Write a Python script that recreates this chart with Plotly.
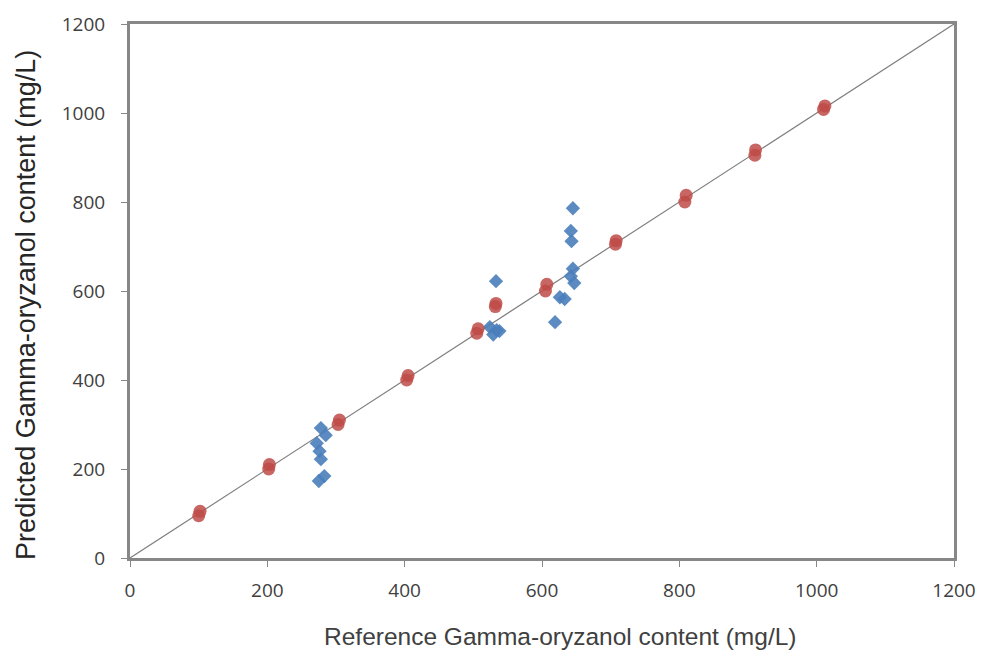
import plotly.graph_objects as go

# Blue series (diamonds)
blue_x = [278, 285, 272, 276, 278, 283, 275,
          533, 524, 534, 529, 538,
          645, 642, 643, 645, 642, 647, 626, 633, 619]
blue_y = [292, 276, 258, 240, 222, 184, 173,
          622, 519, 512, 502, 510,
          786, 735, 712, 650, 633, 618, 586, 582, 530]

# Red series (circles)
red_x = [100, 102, 202, 203, 303, 305, 403, 405, 505, 507, 532, 533,
         605, 607, 707, 708, 808, 810, 910, 911, 1010, 1012]
red_y = [95, 105, 200, 210, 300, 310, 400, 410, 505, 515, 565, 572,
         600, 615, 705, 713, 800, 815, 905, 917, 1008, 1016]

line_x = [0, 1200]
line_y = [0, 1200]

tick_vals = [0, 200, 400, 600, 800, 1000, 1200]

x_title = "Reference Gamma-oryzanol content (mg/L)"
y_title = "Predicted Gamma-oryzanol content (mg/L)"

fig = go.Figure()
fig.add_trace(go.Scatter(x=line_x, y=line_y, mode="lines",
                         line=dict(color="#7f7f7f", width=1.2), showlegend=False))
fig.add_trace(go.Scatter(x=blue_x, y=blue_y, mode="markers",
                         marker=dict(symbol="diamond", size=11, color="#4a7ebb",
                                     opacity=0.9, line=dict(width=0)),
                         showlegend=False))
fig.add_trace(go.Scatter(x=red_x, y=red_y, mode="markers",
                         marker=dict(symbol="circle", size=13, color="#be4b48",
                                     opacity=0.85, line=dict(width=0)),
                         showlegend=False))

axis_common = dict(range=[0, 1200], tickvals=tick_vals, showgrid=False,
                   zeroline=False, showline=True, linecolor="#878787", linewidth=3,
                   mirror=True, ticks="outside", ticklen=6, tickcolor="#878787",
                   tickwidth=1, automargin=False,
                   tickfont=dict(family="Open Sans", size=19, color="#404040"))

fig.update_xaxes(**axis_common, ticklabelstandoff=7)
fig.update_yaxes(**axis_common, ticklabelstandoff=12)

fig.add_annotation(text=x_title, xref="paper", yref="paper", x=0.523, y=0,
                   xanchor="center", yanchor="middle", yshift=-78, showarrow=False,
                   font=dict(family="Liberation Sans", size=24.5, color="#404040"))
fig.add_annotation(text=y_title, xref="paper", yref="paper", x=0, y=0.474,
                   xanchor="center", yanchor="middle", xshift=-104, textangle=-90,
                   showarrow=False,
                   font=dict(family="Liberation Sans", size=27, color="#262626"))

fig.update_layout(width=984, height=650,
                  margin=dict(l=122, r=38, t=16, b=100),
                  plot_bgcolor="white", paper_bgcolor="white")

fig.write_html("out.html")
